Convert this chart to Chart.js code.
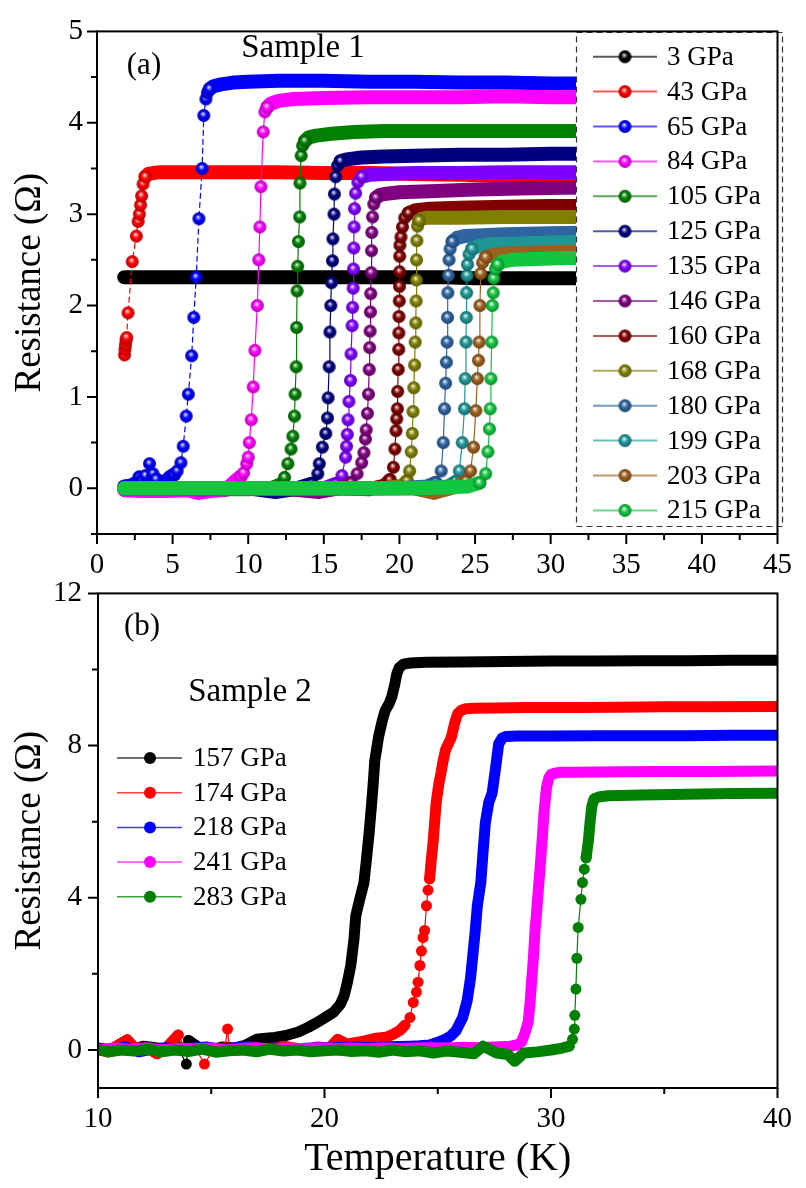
<!DOCTYPE html>
<html><head><meta charset="utf-8">
<script src="https://cdn.jsdelivr.net/npm/chart.js@4.4.1/dist/chart.umd.min.js"></script>
<style>
html,body{margin:0;padding:0;background:#fff;}
#wrap{position:relative;width:806px;height:1188px;overflow:hidden;background:#fff;}
canvas{position:absolute;left:0;}
#ca{top:0;width:806px;height:600px;}
#cb{top:560px;width:806px;height:628px;}
</style></head><body>
<div id="wrap"><canvas id="ca" width="806" height="600"></canvas><canvas id="cb" width="806" height="628"></canvas></div>
<script>
// ---------------- Panel (a) data: Sample 1 ----------------
const labelsA = ['3 GPa','43 GPa','65 GPa','84 GPa','105 GPa','125 GPa','135 GPa','146 GPa','160 GPa','168 GPa','180 GPa','199 GPa','203 GPa','215 GPa'];
const p3T = [1.8,2.5,3.5,5,7,9,11,13,15,17,19,21,23,25,27,29,31,33];
const p3R = [2.31,2.31,2.31,2.31,2.31,2.31,2.31,2.31,2.31,2.31,2.31,2.31,2.31,2.30,2.30,2.30,2.30,2.30];
const p43T = [1.82,1.85,1.88,1.92,1.96,2.05,2.33,2.6,2.72,2.8,2.88,2.95,3.05,3.2,3.4,3.7,4.2,5,6,8,10,12,15,18,21,24,27,30,33];
const p43R = [1.46,1.52,1.57,1.62,1.65,1.92,2.48,2.76,2.92,3.0,3.1,3.2,3.33,3.41,3.44,3.45,3.46,3.46,3.46,3.46,3.46,3.46,3.45,3.45,3.44,3.43,3.42,3.41,3.40];
const p65T = [1.8,2.2,2.6,2.8,3.0,3.2,3.47,3.7,3.9,4.2,4.5,4.8,5.1,5.3,5.55,5.7,5.9,6.04,6.26,6.4,6.56,6.74,6.95,7.06,7.2,7.3,7.45,7.7,8.2,9,10,12,15,18,21,24,27,30,33];
const p65R = [0.02,0.03,0.06,0.12,0.1,0.14,0.27,0.16,0.1,0.06,0.07,0.12,0.15,0.19,0.28,0.46,0.79,1.03,1.45,1.87,2.31,2.95,3.5,4.08,4.26,4.33,4.37,4.40,4.42,4.44,4.45,4.46,4.46,4.45,4.45,4.44,4.44,4.43,4.43];
const p84T = [1.8,3,4.5,6,6.7,7.5,8.5,9.2,9.5,9.7,9.9,10.0,10.07,10.2,10.33,10.44,10.6,10.7,10.77,10.84,10.99,11.1,11.25,11.5,12,13,15,18,21,24,27,30,33];
const p84R = [-0.02,-0.03,-0.03,-0.02,-0.05,-0.03,-0.02,0.09,0.13,0.17,0.27,0.34,0.5,0.75,1.11,1.51,2.0,2.5,2.86,3.3,3.9,4.12,4.17,4.21,4.24,4.26,4.27,4.28,4.28,4.28,4.29,4.28,4.28];
const p105T = [1.8,4,6,8,10,11.5,12.1,12.4,12.62,12.83,12.95,13.06,13.1,13.17,13.2,13.23,13.27,13.32,13.4,13.42,13.5,13.6,13.75,14,14.5,15.5,17,19,21,24,27,30,33];
const p105R = [0,0,0,-0.01,-0.01,0,0.04,0.12,0.27,0.43,0.57,0.79,1.03,1.33,1.76,2.16,2.43,2.7,2.97,3.34,3.64,3.75,3.8,3.84,3.86,3.88,3.9,3.91,3.91,3.91,3.91,3.91,3.91];
const p125T = [1.8,4,7,10,11.8,13,14.2,14.6,14.7,14.9,15.13,15.24,15.28,15.35,15.4,15.46,15.5,15.57,15.6,15.67,15.7,15.78,15.9,16.1,16.5,17.5,19,21,24,27,30,33];
const p125R = [0,0,-0.01,0,-0.04,-0.01,0.05,0.16,0.27,0.45,0.6,0.77,0.99,1.33,1.71,2.0,2.25,2.49,2.73,3.0,3.22,3.41,3.53,3.58,3.6,3.62,3.63,3.64,3.65,3.65,3.66,3.66];
const p135T = [1.8,4,7,10,13,15,15.8,16.2,16.44,16.5,16.55,16.6,16.66,16.76,16.8,16.87,16.9,16.94,16.96,16.98,17.0,17.03,17.1,17.25,17.5,18,19,21,24,27,30,33];
const p135R = [0,0,0,0,-0.01,0,0.05,0.14,0.34,0.46,0.59,0.75,0.95,1.18,1.47,1.78,1.98,2.19,2.4,2.63,2.86,3.06,3.23,3.35,3.41,3.43,3.44,3.45,3.45,3.46,3.46,3.46];
const p146T = [1.8,5,9,12,14.7,16,16.8,17.2,17.5,17.65,17.75,17.8,17.88,17.95,18.0,18.03,18.06,18.08,18.1,18.13,18.15,18.17,18.22,18.3,18.45,18.7,19,20,22,25,28,31,33];
const p146R = [0,0,0,0,-0.04,0,0.06,0.16,0.28,0.39,0.54,0.64,0.82,1.03,1.3,1.54,1.72,1.93,2.13,2.36,2.6,2.8,2.97,3.11,3.18,3.21,3.22,3.24,3.25,3.27,3.28,3.29,3.29];
const p160T = [1.8,5,9,13,16,18,19.0,19.36,19.6,19.7,19.77,19.82,19.86,19.88,19.92,19.95,19.96,19.97,19.99,20.0,20.01,20.02,20.03,20.1,20.2,20.35,20.6,21,22,24,27,30,33];
const p160R = [0,0,0,0,0,-0.01,0.03,0.09,0.23,0.43,0.63,0.76,0.87,1.06,1.3,1.52,1.7,1.88,2.05,2.21,2.37,2.54,2.66,2.75,2.86,2.96,3.01,3.04,3.06,3.07,3.08,3.09,3.09];
const p168T = [1.8,5,9,13,17,19,20.2,20.5,20.67,20.78,20.85,20.9,20.95,21.0,21.04,21.08,21.1,21.12,21.13,21.15,21.2,21.3,21.5,21.8,22.5,24,27,30,33];
const p168R = [0,0,0,0,0,0,0.03,0.08,0.19,0.4,0.6,0.84,1.1,1.35,1.6,1.81,2.05,2.28,2.5,2.71,2.87,2.93,2.95,2.96,2.96,2.96,2.97,2.97,2.97];
const p180T = [1.8,5,9,13,17,20,21.8,22.4,22.76,22.9,22.98,23.05,23.1,23.15,23.18,23.2,23.24,23.28,23.35,23.5,23.8,24.3,25.5,27,30,33];
const p180R = [0,0,0,0,0,0,0.02,0.06,0.19,0.5,0.87,1.15,1.38,1.6,1.87,2.14,2.33,2.5,2.62,2.7,2.74,2.76,2.77,2.78,2.79,2.8];
const p199T = [1.8,5,9,13,17,21,23.2,23.7,23.96,24.15,24.3,24.35,24.4,24.42,24.44,24.47,24.5,24.6,24.8,25.2,26,28,30,33];
const p199R = [0,0,0,0,0,0,0.02,0.07,0.19,0.5,0.87,1.2,1.6,1.87,2.14,2.33,2.45,2.56,2.62,2.65,2.67,2.68,2.69,2.7];
const p203T = [1.8,5,9,13,17,21,22.3,23.8,24.4,24.7,24.9,25.05,25.15,25.22,25.27,25.32,25.38,25.5,25.7,26.1,27,29,31,33];
const p203R = [0,0,0,0,0,0,-0.05,0.02,0.08,0.19,0.45,0.85,1.2,1.4,1.6,2.0,2.35,2.47,2.53,2.55,2.57,2.58,2.59,2.59];
const p215T = [1.8,3,5,7,9,11,13,15,17,19,21,23,24.5,25.3,25.7,25.85,25.95,26.0,26.05,26.1,26.14,26.2,26.24,26.35,26.5,26.8,27.5,29,31,33];
const p215R = [0,0,0,0,0,0,0,0,0,0,0,0.01,0.02,0.06,0.16,0.4,0.65,0.87,1.2,1.6,2.0,2.14,2.3,2.4,2.45,2.48,2.5,2.51,2.52,2.52];
const seriesA = [[p3T,p3R],[p43T,p43R],[p65T,p65R],[p84T,p84R],[p105T,p105R],[p125T,p125R],[p135T,p135R],[p146T,p146R],[p160T,p160R],[p168T,p168R],[p180T,p180R],[p199T,p199R],[p203T,p203R],[p215T,p215R]];
const xMajorA = [0,5,10,15,20,25,30,35,40,45];
const xMinorA = [2.5,7.5,12.5,17.5,22.5,27.5,32.5,37.5,42.5];
const yMajorA = [0,1,2,3,4,5];
const yMinorA = [-0.5,0.5,1.5,2.5,3.5,4.5];

// ---------------- Panel (b) data: Sample 2 ----------------
const labelsB = ['157 GPa','174 GPa','218 GPa','241 GPa','283 GPa'];
const b157T = [10,10.5,11,11.5,12,12.6,13,13.5,13.9,14.0,14.5,15,15.5,16,16.5,17,17.3,17.8,18.3,18.84,19.3,19.7,20.1,20.4,20.7,20.87,21.0,21.16,21.3,21.38,21.55,21.74,21.85,21.97,22.07,22.15,22.22,22.39,22.55,22.68,22.85,22.97,23.1,23.19,23.3,23.48,23.8,24.5,26,28,30,32,34,36,38,40];
const b157R = [0.02,-0.05,0.05,0.0,0.1,0.05,0.02,0.1,-0.37,0.25,0.05,0.0,0.08,0.05,0.12,0.28,0.3,0.33,0.38,0.47,0.6,0.73,0.88,0.99,1.2,1.43,1.75,2.22,2.9,3.52,3.95,4.39,5.0,5.7,6.4,7.0,7.6,8.24,8.65,8.92,9.1,9.28,9.6,9.88,10.05,10.14,10.17,10.19,10.2,10.21,10.22,10.22,10.23,10.23,10.24,10.24];
const b174T = [10,10.4,10.8,11.29,11.7,12.2,12.6,13.0,13.54,13.9,14.3,14.7,15.1,15.6,15.72,15.8,16.2,16.7,17.2,17.7,18.2,18.7,19.2,19.7,20.2,20.58,21.0,21.4,21.74,22.2,22.5,22.76,23.05,23.34,23.55,23.77,23.92,24.06,24.13,24.21,24.28,24.35,24.42,24.5,24.57,24.64,24.7,24.8,24.93,25.05,25.15,25.22,25.35,25.59,25.75,25.88,26.05,26.24,26.6,27.5,29,31,33,35,37,40];
const b174R = [0.05,-0.05,0.1,0.27,0.0,0.05,-0.1,0.05,0.39,0.0,0.05,-0.37,0.02,0.05,0.55,0.03,0.0,0.08,0.02,0.05,0.1,0.05,0.0,0.08,0.05,0.28,0.15,0.2,0.23,0.3,0.32,0.34,0.42,0.52,0.65,0.85,1.25,1.52,1.78,2.22,2.6,2.95,3.14,3.79,4.2,4.5,4.9,5.5,6.5,7.0,7.3,7.55,7.9,8.2,8.6,8.84,8.93,8.97,8.98,8.99,9.0,9.0,9.01,9.02,9.02,9.03];
const b218T = [10,10.6,11.2,11.8,12.4,13,13.6,14.2,14.8,15.4,16,16.6,17.2,17.8,18.4,19,19.6,20.2,20.8,21.4,22,22.6,23.2,23.8,24.2,24.64,25.0,25.37,25.6,25.8,26.1,26.3,26.45,26.55,26.65,26.75,26.9,27.0,27.1,27.25,27.4,27.55,27.69,27.85,28.0,28.5,30,32,34,36,38,40];
const b218R = [0.05,0.0,0.08,-0.05,0.02,0.06,0.0,0.05,0.08,0.02,0.05,0.1,0.03,0.05,0.02,0.04,0.06,0.05,0.07,0.08,0.06,0.08,0.09,0.1,0.11,0.13,0.2,0.29,0.38,0.5,0.85,1.3,1.9,2.5,3.1,3.8,4.4,5.2,5.96,6.5,6.75,7.4,8.05,8.2,8.24,8.25,8.25,8.26,8.26,8.26,8.27,8.27];
const b241T = [10,10.7,11.4,12.1,12.8,13.5,14.2,14.9,15.6,16.3,17,17.7,18.4,19.1,19.8,20.5,21.2,21.9,22.6,23.3,24,24.7,25.4,26.1,26.8,27.5,28.2,28.5,28.7,28.85,28.99,29.07,29.14,29.22,29.29,29.36,29.43,29.52,29.6,29.7,29.8,29.9,30.0,30.2,30.5,31,33,35,37,40];
const b241R = [0.0,0.05,0.02,0.06,0.0,0.04,0.03,0.05,0.0,0.04,0.06,0.02,0.05,0.03,0.06,0.04,0.05,0.03,0.06,0.04,0.05,0.06,0.05,0.07,0.06,0.08,0.1,0.13,0.21,0.45,0.73,1.2,1.78,2.4,3.09,3.6,4.13,4.8,5.44,6.3,6.9,7.15,7.24,7.28,7.3,7.3,7.31,7.32,7.32,7.33];
const b283T = [10,10.5,11,11.6,12.2,12.8,13.4,14,14.6,15.2,15.8,16.4,17,17.6,18.2,18.8,19.4,20,20.6,21.2,21.8,22.4,23,23.6,24.2,24.8,25.4,26,26.6,27,27.6,28.1,28.4,28.8,29.4,30,30.5,30.8,30.95,31.03,31.05,31.1,31.14,31.2,31.32,31.39,31.47,31.55,31.65,31.72,31.8,31.9,32.1,32.5,34,36,38,40];
const b283R = [0.0,-0.05,0.0,-0.03,0.02,-0.05,0.0,-0.04,0.02,-0.06,-0.02,0.0,-0.05,0.02,-0.03,0.0,-0.05,-0.02,0.0,-0.04,-0.02,-0.06,0.0,-0.05,-0.02,-0.08,-0.03,-0.06,-0.1,0.1,-0.08,-0.12,-0.3,-0.08,-0.05,0.0,0.05,0.1,0.28,0.55,0.91,1.6,2.41,3.22,3.96,4.4,4.75,5.05,5.5,5.96,6.4,6.6,6.65,6.68,6.7,6.72,6.74,6.75];
const seriesB = [[b157T,b157R],[b174T,b174R],[b218T,b218R],[b241T,b241R],[b283T,b283R]];
const xMajorB = [10,20,30,40];
const xMinorB = [15,25,35];
const yMajorB = [0,4,8,12];
const yMinorB = [2,6,10];

// ---------------- styles ----------------
const colorsA = ['#000000','#ff0000','#0000ff','#ff00ff','#008000','#000080','#8000ff','#800080','#800000','#808000','#2e64a0','#1e9696','#9c601e','#12c640'];
const colorsB = ['#000000','#ff0000','#0000ff','#ff00ff','#008000'];
const FONT = "'Liberation Serif', 'Times New Roman', serif";

function rgb(hex){const n=parseInt(hex.slice(1),16);return [(n>>16)&255,(n>>8)&255,n&255];}
function mix(hex,t,to){const c=rgb(hex);const d=to==='w'?255:0;return 'rgb('+c.map(v=>Math.round(v+(d-v)*t)).join(',')+')';}
function rgba(hex,a){const c=rgb(hex);return 'rgba('+c.join(',')+','+a+')';}
function sphere(color,r){
  const s=Math.ceil(2*r+2);const c=document.createElement('canvas');c.width=c.height=s;
  const g=c.getContext('2d');const cx=s/2,cy=s/2;
  const gr=g.createRadialGradient(cx-r*0.15,cy-r*0.3,0,cx,cy,r);
  gr.addColorStop(0,'#ffffff');
  gr.addColorStop(0.22,mix(color,0.5,'w'));
  gr.addColorStop(0.5,color);
  gr.addColorStop(0.85,mix(color,0.2,'k'));
  gr.addColorStop(1,mix(color,0.4,'k'));
  g.fillStyle=gr;g.beginPath();g.arc(cx,cy,r,0,Math.PI*2);g.fill();
  return c;
}
// segment between two data points drawn as a thick band?
function thickPair(chart,ds,a,b){
  if(ds.thickAll) return true;
  if(ds.thickAbove!=null && a.y>=ds.thickAbove && b.y>=ds.thickAbove) return true;
  const sx=chart.scales.x, sy=chart.scales.y;
  const dx=Math.abs(sx.getPixelForValue(b.x)-sx.getPixelForValue(a.x));
  const dy=Math.abs(sy.getPixelForValue(b.y)-sy.getPixelForValue(a.y));
  return dy<=dx*1.2;
}
function isThick(c){
  const ds=c.chart.data.datasets[c.datasetIndex];
  return thickPair(c.chart,ds,ds.data[c.p0DataIndex],ds.data[c.p1DataIndex]);
}
function inBand(c){
  const ds=c.dataset, d=ds.data, i=c.dataIndex;
  const L = i>0 ? thickPair(c.chart,ds,d[i-1],d[i]) : true;
  const R = i<d.length-1 ? thickPair(c.chart,ds,d[i],d[i+1]) : true;
  return L && R;
}
function makeDataset(T,R,i,n,color,opt){
  return Object.assign({
    label: opt.label,
    data: T.map((t,k)=>({x:t,y:R[k]})),
    showLine:true,
    borderColor:color,
    backgroundColor:color,
    borderWidth:1,
    borderCapStyle:'round',
    borderJoinStyle:'round',
    pointRadius:c=>inBand(c)?0:opt.pr,
    pointStyle:opt.ps,
    pointBorderWidth:0,
    pointBackgroundColor:color,
    order:n-1-i,
    segment:{
      borderWidth:c=>isThick(c)?opt.band:1.2,
      borderDash:c=>(!isThick(c)&&opt.dashed)?[5,4]:[]
    }
  },opt.extra||{});
}
function axisPlugin(xMaj,xMin,yMaj,yMin){
  return {id:'frameTicks',afterDatasetsDraw(chart){
    const {ctx,chartArea:a,scales:{x,y}}=chart;
    ctx.save();
    ctx.strokeStyle='#000';ctx.lineWidth=2;ctx.setLineDash([]);
    ctx.strokeRect(a.left,a.top,a.right-a.left,a.bottom-a.top);
    ctx.beginPath();
    xMaj.forEach(v=>{const p=x.getPixelForValue(v);ctx.moveTo(p,a.bottom);ctx.lineTo(p,a.bottom+10);});
    xMin.forEach(v=>{const p=x.getPixelForValue(v);ctx.moveTo(p,a.bottom);ctx.lineTo(p,a.bottom+6);});
    yMaj.forEach(v=>{const p=y.getPixelForValue(v);ctx.moveTo(a.left,p);ctx.lineTo(a.left-10,p);});
    yMin.forEach(v=>{const p=y.getPixelForValue(v);ctx.moveTo(a.left,p);ctx.lineTo(a.left-6,p);});
    ctx.stroke();ctx.restore();
  }};
}
const tickFont={family:FONT,size:29};
const titleFont={family:FONT,size:37};

// ---------------- Chart (a) ----------------
const spheresA=colorsA.map(c=>sphere(c,6.5));
const dsA=seriesA.map((s,i)=>makeDataset(s[0],s[1],i,seriesA.length,colorsA[i],{
  label:labelsA[i],pr:6.5,ps:spheresA[i],band:14,dashed:(i===1||i===2)}));
const legendA={id:'legendA',afterDatasetsDraw(chart){
  const ctx=chart.ctx;ctx.save();
  ctx.fillStyle='#fff';ctx.fillRect(576,32,207,495);
  ctx.strokeStyle='#333';ctx.lineWidth=1.2;ctx.setLineDash([6,4]);
  ctx.strokeRect(576.5,32.5,206,494);ctx.setLineDash([]);
  labelsA.forEach((t,i)=>{
    const yy=56.7+i*34.9;
    ctx.strokeStyle=rgba(colorsA[i],0.65);ctx.lineWidth=2;
    ctx.beginPath();ctx.moveTo(593,yy);ctx.lineTo(657,yy);ctx.stroke();
    ctx.drawImage(spheresA[i],625-spheresA[i].width/2,yy-spheresA[i].height/2);
    ctx.fillStyle='#000';ctx.font='27px '+FONT;ctx.textAlign='left';ctx.textBaseline='middle';
    ctx.fillText(t,667,yy+1);
  });
  ctx.fillStyle='#000';ctx.textAlign='center';ctx.textBaseline='middle';
  ctx.font='31px '+FONT;ctx.fillText('(a)',144,66);
  ctx.font='33px '+FONT;ctx.fillText('Sample 1',303,48);
  ctx.restore();
}};
new Chart(document.getElementById('ca'),{
  type:'scatter',
  data:{datasets:dsA},
  options:{
    responsive:false,animation:false,devicePixelRatio:1,
    layout:{padding:{left:0,right:19,top:25,bottom:0}},
    plugins:{legend:{display:false},tooltip:{enabled:false}},
    scales:{
      x:{type:'linear',min:0,max:45,
        ticks:{stepSize:5,padding:14,font:tickFont,color:'#000',maxRotation:0,includeBounds:false},
        grid:{display:false,drawTicks:false},border:{display:false},
        afterFit(s){s.height=66;}},
      y:{type:'linear',min:-0.5,max:5,
        ticks:{stepSize:1,padding:14,font:tickFont,color:'#000',includeBounds:false,
          callback:v=>Number.isInteger(v)?String(v):''},
        grid:{display:false,drawTicks:false},border:{display:false},
        title:{display:true,text:'Resistance (Ω)',font:titleFont,color:'#000',padding:{top:8,bottom:0}},
        afterFit(s){s.width=97;}}
    }
  },
  plugins:[legendA,axisPlugin(xMajorA,xMinorA,yMajorA,yMinorA)]
});

// ---------------- Chart (b) ----------------
const dsB=seriesB.map((s,i)=>makeDataset(s[0],s[1],i,seriesB.length,colorsB[i],{
  label:labelsB[i],pr:5.5,ps:'circle',band:11,dashed:false,
  extra:(i===0||i===2||i===3)?{thickAbove:0.2}:(i===1?{thickAbove:4.4}:{thickAbove:5.0})}));
const legendB={id:'legendB',afterDatasetsDraw(chart){
  const ctx=chart.ctx;ctx.save();
  ctx.fillStyle='#000';ctx.textAlign='center';ctx.textBaseline='middle';
  ctx.font='31px '+FONT;ctx.fillText('(b)',142,67);
  ctx.font='33px '+FONT;ctx.fillText('Sample 2',250,132);
  labelsB.forEach((t,i)=>{
    const yy=198+i*34.7;
    ctx.strokeStyle=rgba(colorsB[i],0.75);ctx.lineWidth=1.5;
    ctx.beginPath();ctx.moveTo(117,yy);ctx.lineTo(182,yy);ctx.stroke();
    ctx.fillStyle=colorsB[i];ctx.beginPath();ctx.arc(150,yy,6,0,Math.PI*2);ctx.fill();
    ctx.fillStyle='#000';ctx.font='27px '+FONT;ctx.textAlign='left';ctx.textBaseline='middle';
    ctx.fillText(t,193,yy+1);
  });
  ctx.restore();
}};
new Chart(document.getElementById('cb'),{
  type:'scatter',
  data:{datasets:dsB},
  options:{
    responsive:false,animation:false,devicePixelRatio:1,
    layout:{padding:{left:0,right:19,top:29,bottom:0}},
    plugins:{legend:{display:false},tooltip:{enabled:false}},
    scales:{
      x:{type:'linear',min:10,max:40,
        ticks:{stepSize:10,padding:14,font:tickFont,color:'#000',maxRotation:0,includeBounds:false},
        grid:{display:false,drawTicks:false},border:{display:false},
        title:{display:true,text:'Temperature (K)',font:{family:FONT,size:40},color:'#000',padding:{top:0,bottom:5}},
        afterFit(s){s.height=100;}},
      y:{type:'linear',min:-1,max:12,
        ticks:{stepSize:4,padding:16,font:tickFont,color:'#000',includeBounds:false,
          callback:v=>(v%4===0)?String(v):''},
        grid:{display:false,drawTicks:false},border:{display:false},
        title:{display:true,text:'Resistance (Ω)',font:titleFont,color:'#000',padding:{top:8,bottom:0}},
        afterFit(s){s.width=98;}}
    }
  },
  plugins:[legendB,axisPlugin(xMajorB,xMinorB,yMajorB,yMinorB)]
});
</script>
</body></html>
